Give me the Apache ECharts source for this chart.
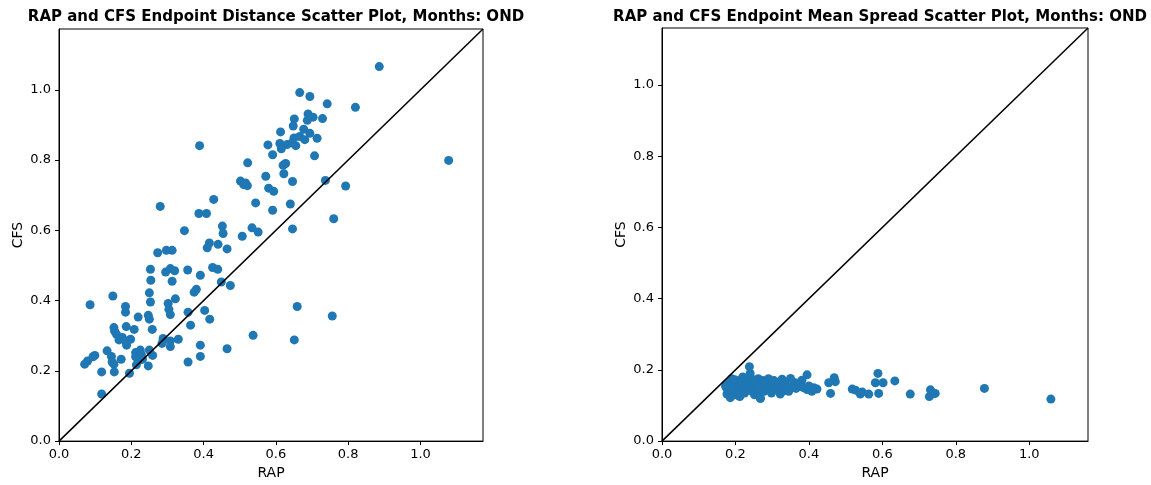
<!DOCTYPE html>
<html>
<head>
<meta charset="utf-8">
<script src="https://cdn.jsdelivr.net/npm/echarts@6/dist/echarts.min.js"></script>
<style>
html,body{margin:0;padding:0;background:#fff;}
#chart{width:1151px;height:485px;}
</style>
</head>
<body>
<div id="chart"></div>
<script>
// ---- Data ----
const leftTitle = 'RAP and CFS Endpoint Distance Scatter Plot, Months: OND';
const rightTitle = 'RAP and CFS Endpoint Mean Spread Scatter Plot, Months: OND';
const xLabel = 'RAP';
const yLabel = 'CFS';
const tickValues = [0.0, 0.2, 0.4, 0.6, 0.8, 1.0];
const leftMax = 1.173;
const rightMax = 1.160;

const distRAP = [
0.886,0.666,0.694,0.742,0.820,0.689,0.703,0.729,0.651,0.687,0.648,0.677,0.613,0.694,0.714,0.650,0.666,0.680,0.578,0.611,
0.631,0.645,0.655,0.615,0.591,0.707,0.627,0.620,0.572,0.622,0.646,0.737,0.580,0.594,0.793,1.078,0.640,0.591,0.760,0.646,
0.389,0.522,0.502,0.516,0.521,0.511,0.428,0.544,0.387,0.408,0.347,0.452,0.454,0.534,0.551,0.507,0.280,0.416,0.410,0.440,
0.465,0.273,0.297,0.313,0.253,0.295,0.308,0.320,0.356,0.425,0.439,0.391,0.254,0.313,0.449,0.474,0.380,0.374,0.250,0.322,
0.149,0.086,0.184,0.184,0.253,0.302,0.304,0.308,0.219,0.247,0.250,0.357,0.403,0.417,0.364,0.152,0.154,0.186,0.208,0.258,
0.159,0.175,0.166,0.184,0.198,0.187,0.288,0.308,0.308,0.285,0.330,0.391,0.537,0.465,0.391,0.357,0.133,0.099,0.094,0.079,
0.071,0.145,0.147,0.152,0.172,0.118,0.153,0.195,0.212,0.212,0.219,0.225,0.228,0.231,0.221,0.214,0.247,0.259,0.250,0.118,
0.659,0.651,0.756
];
const distCFS = [
1.066,0.992,0.981,0.960,0.950,0.931,0.922,0.918,0.917,0.913,0.897,0.888,0.880,0.876,0.862,0.863,0.867,0.858,0.843,0.847,
0.844,0.849,0.841,0.832,0.815,0.812,0.790,0.785,0.754,0.761,0.739,0.742,0.720,0.711,0.726,0.799,0.675,0.657,0.633,0.604,
0.841,0.792,0.740,0.735,0.727,0.730,0.688,0.678,0.648,0.648,0.599,0.612,0.591,0.607,0.595,0.583,0.668,0.564,0.550,0.560,
0.547,0.536,0.543,0.543,0.489,0.481,0.491,0.485,0.487,0.494,0.489,0.472,0.458,0.455,0.453,0.443,0.432,0.424,0.422,0.405,
0.413,0.388,0.383,0.367,0.396,0.392,0.375,0.360,0.353,0.358,0.347,0.367,0.372,0.347,0.330,0.323,0.313,0.326,0.318,0.318,
0.304,0.295,0.288,0.285,0.290,0.273,0.292,0.285,0.269,0.278,0.290,0.273,0.301,0.263,0.241,0.225,0.257,0.244,0.240,0.228,
0.219,0.241,0.225,0.219,0.233,0.197,0.197,0.193,0.252,0.240,0.236,0.259,0.246,0.233,0.229,0.217,0.214,0.244,0.259,0.134,
0.383,0.288,0.356
];

const spreadRAP = [
0.395,0.381,0.363,0.350,0.327,0.322,0.304,0.331,0.413,0.422,0.469,0.472,0.454,0.459,0.518,0.527,0.545,0.563,0.540,0.588,
0.581,0.602,0.634,0.590,0.676,0.731,0.744,0.728,0.735,0.878,1.059,
0.175,0.180,0.185,0.190,0.195,0.200,0.205,0.210,0.212,0.215,0.218,0.220,0.222,0.225,0.228,0.230,0.232,0.235,0.238,0.240,
0.242,0.245,0.248,0.250,0.252,0.255,0.258,0.260,0.262,0.265,0.268,0.270,0.272,0.275,0.278,0.280,0.285,0.288,0.290,0.295,
0.298,0.300,0.305,0.310,0.315,0.318,0.322,0.325,0.335,0.340,0.345,0.355,0.365,0.372,0.385,0.395,0.400,0.408,0.180,0.195,
0.205,0.198,0.188,0.263,0.248,0.173,0.177,0.186,0.209,0.268
];
const spreadCFS = [
0.186,0.171,0.164,0.176,0.174,0.150,0.164,0.141,0.150,0.146,0.178,0.167,0.164,0.134,0.146,0.143,0.138,0.132,0.132,0.190,
0.164,0.164,0.169,0.134,0.132,0.144,0.134,0.125,0.132,0.148,0.118,
0.150,0.140,0.165,0.175,0.130,0.155,0.145,0.170,0.125,0.160,0.140,0.180,0.150,0.135,0.165,0.155,0.145,0.175,0.209,0.190,
0.160,0.140,0.150,0.170,0.130,0.155,0.165,0.145,0.175,0.135,0.120,0.160,0.150,0.170,0.140,0.155,0.165,0.145,0.175,0.150,
0.135,0.160,0.170,0.145,0.155,0.165,0.132,0.150,0.160,0.150,0.140,0.155,0.148,0.158,0.150,0.145,0.155,0.140,0.160,0.150,
0.165,0.172,0.148,0.155,0.172,0.155,0.132,0.122,0.127,0.120
];

// ---- Build ----
const pair = (xs, ys) => xs.map((x, i) => [x, ys[i]]);
const FONT = 'DejaVu Sans';
const DOT = '#1f77b4';

function axis(gridIndex, max, name, isY) {
  return {
    type: 'value', gridIndex, min: 0, max,
    name, nameLocation: 'middle', nameGap: isY ? 34 : 24,
    nameTextStyle: { fontFamily: FONT, fontSize: 14, color: '#000' },
    axisLine: { show: true, onZero: false, lineStyle: { color: '#000', width: 1 } },
    axisTick: { show: true, length: 4, inside: false, customValues: tickValues, lineStyle: { color: '#000' } },
    axisLabel: { customValues: tickValues, fontFamily: FONT, fontSize: 13, color: '#000', margin: isY ? 8 : 7,
      formatter: v => v.toFixed(1) },
    splitLine: { show: false }
  };
}

const titleStyle = { fontFamily: FONT, fontWeight: 'bold', fontSize: 15, color: '#000' };

const option = {
  animation: false,
  backgroundColor: '#fff',
  title: [
    { text: leftTitle, left: 271, top: 5, textAlign: 'center', textStyle: titleStyle },
    { text: rightTitle, left: 875, top: 5, textAlign: 'center', textStyle: titleStyle }
  ],
  grid: [
    { left: 59, top: 29, width: 424, height: 413, show: true, borderColor: '#000', borderWidth: 1, backgroundColor: 'transparent' },
    { left: 662, top: 28, width: 426, height: 414, show: true, borderColor: '#000', borderWidth: 1, backgroundColor: 'transparent' }
  ],
  xAxis: [axis(0, leftMax, xLabel, false), axis(1, rightMax, xLabel, false)],
  yAxis: [axis(0, leftMax, yLabel, true), axis(1, rightMax, yLabel, true)],
  series: [
    { type: 'scatter', xAxisIndex: 0, yAxisIndex: 0, data: pair(distRAP, distCFS),
      symbolSize: 9, itemStyle: { color: DOT, opacity: 1 }, z: 2 },
    { type: 'line', xAxisIndex: 0, yAxisIndex: 0, data: [[0, 0], [leftMax, leftMax]],
      symbol: 'none', lineStyle: { color: '#000', width: 1.5 }, z: 3 },
    { type: 'scatter', xAxisIndex: 1, yAxisIndex: 1, data: pair(spreadRAP, spreadCFS),
      symbolSize: 9, itemStyle: { color: DOT, opacity: 1 }, z: 2 },
    { type: 'line', xAxisIndex: 1, yAxisIndex: 1, data: [[0, 0], [rightMax, rightMax]],
      symbol: 'none', lineStyle: { color: '#000', width: 1.5 }, z: 3 }
  ]
};

const chart = echarts.init(document.getElementById('chart'), null, { renderer: 'canvas' });
chart.setOption(option);
</script>
</body>
</html>
